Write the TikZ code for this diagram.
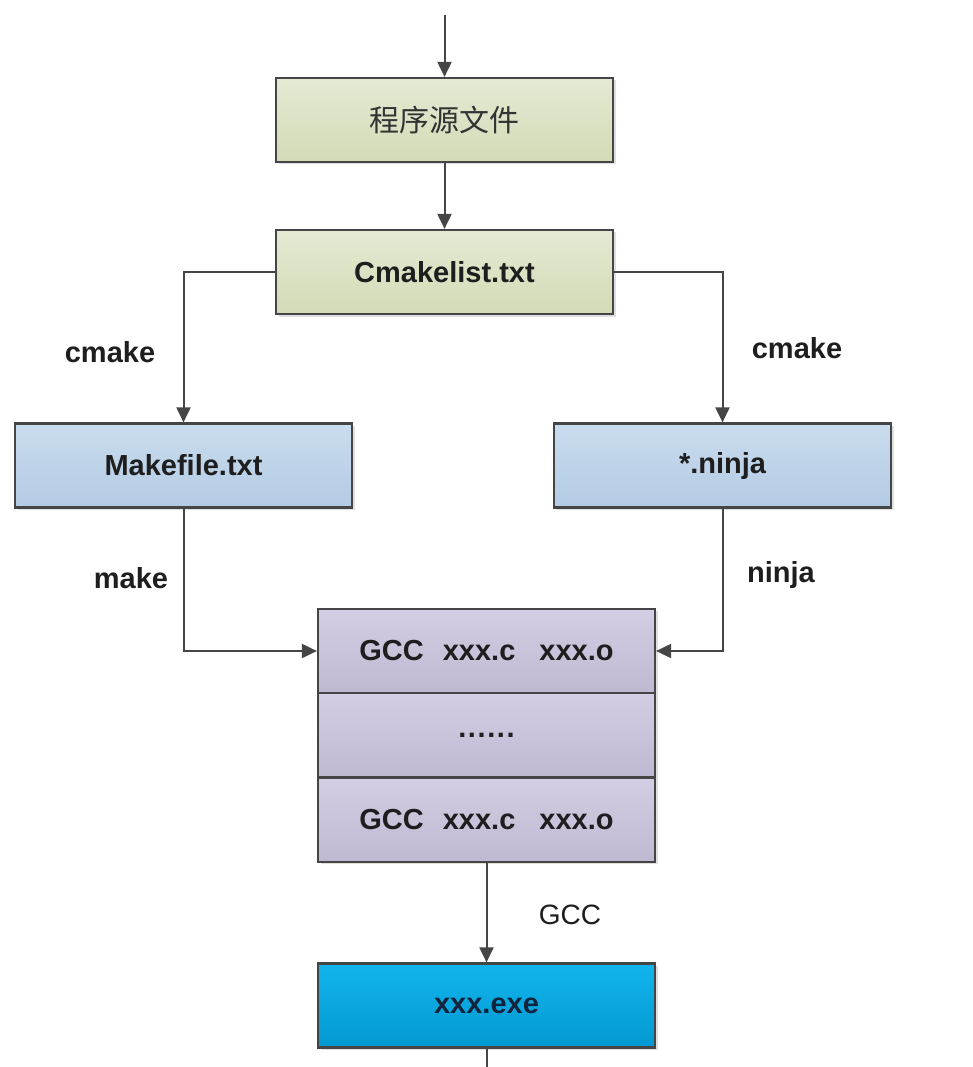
\documentclass[tikz,border=0pt]{standalone}
\usepackage{fontspec}
\setmainfont{Liberation Sans}
\newfontfamily\cjk{Noto Sans CJK SC}
\usetikzlibrary{arrows.meta,shadows}
\definecolor{edgec}{HTML}{454545}
\definecolor{txtc}{HTML}{1E1E1E}
\definecolor{cjkc}{HTML}{333333}
\definecolor{gtop}{HTML}{E4EAD3}
\definecolor{gbot}{HTML}{D2DBB6}
\definecolor{btop}{HTML}{CADCEF}
\definecolor{bbot}{HTML}{B3CBE3}
\definecolor{ptop}{HTML}{D3CEE3}
\definecolor{pbot}{HTML}{BFB8D2}
\definecolor{etop}{HTML}{12B4EC}
\definecolor{ebot}{HTML}{0399D2}
\definecolor{etxt}{HTML}{10243C}
\tikzset{
  box/.style={draw=edgec, line width=2.2pt, rectangle, minimum width=337pt, minimum height=84pt, inner sep=0pt,
    font=\fontsize{29}{34}\selectfont\bfseries, text=txtc,
    drop shadow={opacity=0.25, shadow xshift=2.5pt, shadow yshift=-2.5pt}},
  greenbox/.style={box, top color=gtop, bottom color=gbot},
  bluebox/.style={box, top color=btop, bottom color=bbot},
  purplebox/.style={box, minimum height=84.33pt, top color=ptop, bottom color=pbot},
  exebox/.style={box, top color=etop, bottom color=ebot, text=etxt},
  arr/.style={draw=edgec, line width=2pt, -{Triangle[length=15pt,width=14pt]}},
  plain/.style={draw=edgec, line width=2pt},
  lbl/.style={font=\fontsize{29}{34}\selectfont\bfseries, text=txtc, inner sep=0pt},
}
\newcommand{\gccrow}{GCC\hspace{19pt}xxx.c\hspace{24pt}xxx.o}
\begin{document}
\begin{tikzpicture}[x=1pt,y=-1pt]
\useasboundingbox[fill=white] (0,0) rectangle (973,1067);
\coordinate (topin) at (444.5,15);
\coordinate (botout) at (486.5,1067);
\node[greenbox, font=\fontsize{30}{34}\selectfont\cjk, text=cjkc] (src) at (444.5,120) {程序源文件};
\node[greenbox] (cm) at (444.5,272) {Cmakelist.txt};
\node[bluebox] (mk) at (183.5,465.5) {Makefile.txt};
\node[bluebox] (nj) at (722.5,465.5) {*.ninja};
\node[purplebox] (g1) at (486.5,651) {\gccrow};
\node[purplebox] (g2) at (486.5,735.3) {.\kern1.6pt.\kern1.6pt.\kern1.6pt.\kern1.6pt.\kern1.6pt.};
\node[purplebox] (g3) at (486.5,819.7) {\gccrow};
\node[exebox] (exe) at (486.5,1005.5) {xxx.exe};
\draw[arr] (topin) -- (src.north);
\draw[arr] (src.south) -- (cm.north);
\draw[arr] (cm.west) -| (mk.north);
\draw[arr] (cm.east) -| (nj.north);
\draw[arr] (mk.south) |- (g1.west);
\draw[arr] (nj.south) |- (g1.east);
\draw[arr] (g3.south) -- (exe.north);
\draw[plain] (exe.south) -- (botout);
\node[lbl] (l1) at (110,352) {cmake};
\node[lbl] (l2) at (797,348) {cmake};
\node[lbl] (l3) at (131,578) {make};
\node[lbl] (l4) at (781,575) {ninja};
\node[lbl, font=\fontsize{28}{34}\selectfont] (l5) at (570,915) {GCC};
\end{tikzpicture}
\end{document}
